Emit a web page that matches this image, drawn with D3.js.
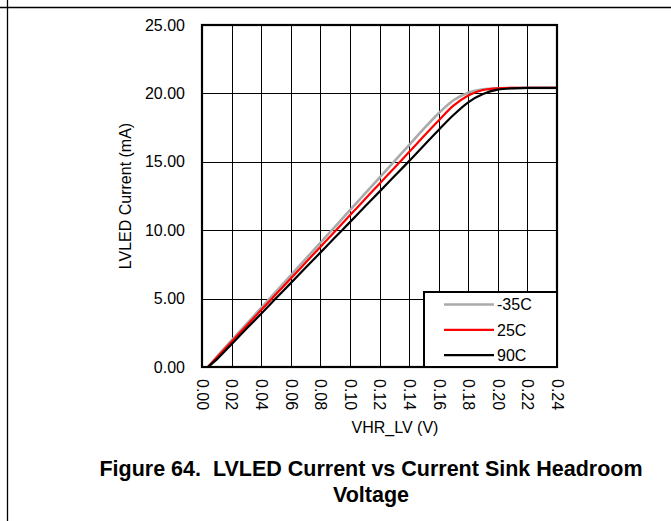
<!DOCTYPE html>
<html><head><meta charset="utf-8">
<script src="https://cdn.jsdelivr.net/npm/d3@7"></script>
<style>body{margin:0;background:#fff}svg{display:block}</style>
</head><body>
<svg id="c" width="671" height="521"></svg>
<script>
const xVals = [0.004,0.01,0.02,0.03,0.04,0.05,0.06,0.07,0.08,0.09,0.10,0.11,0.12,0.13,0.14,0.15,0.16,0.17,0.18,0.19,0.20,0.21,0.22,0.23,0.24];
const seriesM35 = [0,0.75,1.94,3.13,4.32,5.51,6.70,7.89,9.08,10.27,11.46,12.65,13.84,15.03,16.22,17.42,18.55,19.5,20.05,20.3,20.38,20.4,20.4,20.4,20.4];
const series25 = [0,0.69,1.85,3.00,4.16,5.31,6.47,7.62,8.78,9.93,11.09,12.24,13.40,14.55,15.71,16.88,18.02,19.1,19.85,20.25,20.37,20.4,20.4,20.4,20.4];
const series90 = [0,0.56,1.67,2.79,3.90,5.02,6.13,7.25,8.36,9.48,10.59,11.71,12.82,13.94,15.05,16.2,17.33,18.42,19.35,19.95,20.27,20.37,20.4,20.4,20.4];
const seriesNames = ["-35C","25C","90C"];
const seriesColors = ["#aaaaaa","#ff0000","#000000"];
const xTicks = [0,0.02,0.04,0.06,0.08,0.10,0.12,0.14,0.16,0.18,0.20,0.22,0.24];
const yTicks = [0,5,10,15,20,25];
const xTitle = "VHR_LV (V)";
const yTitle = "LVLED Current (mA)";
const caption1 = "Figure 64.  LVLED Current vs Current Sink Headroom";
const caption2 = "Voltage";

const svg = d3.select("#c");
const font = "'Liberation Sans', Arial, sans-serif";
const L=202, R=557, T=25, B=367;
const x = d3.scaleLinear().domain([0,0.24]).range([L,R]);
const y = d3.scaleLinear().domain([0,25]).range([B,T]);

// outer frame lines
svg.append("line").attr("x1",0).attr("x2",671).attr("y1",7.5).attr("y2",7.5).attr("stroke","#000").attr("stroke-width",1.3);
svg.append("line").attr("x1",7.5).attr("x2",7.5).attr("y1",0).attr("y2",521).attr("stroke","#000").attr("stroke-width",1.3);

// grid
const g = svg.append("g");
g.selectAll(".vx").data(xTicks).join("line")
  .attr("x1",d=>Math.round(x(d))+0.5).attr("x2",d=>Math.round(x(d))+0.5)
  .attr("y1",T).attr("y2",B).attr("stroke","#000").attr("stroke-width",1);
g.selectAll(".hy").data(yTicks).join("line")
  .attr("y1",d=>Math.round(y(d))+0.5).attr("y2",d=>Math.round(y(d))+0.5)
  .attr("x1",L).attr("x2",R).attr("stroke","#000").attr("stroke-width",1);

// axes (labels)
const yAxis = d3.axisLeft(y).tickValues(yTicks).tickFormat(d3.format(".2f")).tickSize(0).tickPadding(17);
const ya = svg.append("g").attr("transform",`translate(${L},0)`).call(yAxis);
ya.select(".domain").remove();
ya.selectAll("text").attr("font-family",font).attr("font-size",16).attr("fill","#000");

const xAxis = d3.axisBottom(x).tickValues(xTicks).tickFormat(d3.format(".2f")).tickSize(0);
const xa = svg.append("g").attr("transform",`translate(0,${B})`).call(xAxis);
xa.select(".domain").remove();
xa.selectAll("text").attr("font-family",font).attr("font-size",16).attr("fill","#000")
  .attr("transform","rotate(90)").attr("text-anchor","start").attr("x",12).attr("y",0).attr("dy","0.35em");

// lines
const line = d3.line().x((d,i)=>x(xVals[i])).y(d=>y(d)).curve(d3.curveMonotoneX);
const all = [seriesM35, series25, series90];
all.forEach((s,i)=>{
  svg.append("path").attr("d",line(s)).attr("fill","none")
    .attr("stroke",seriesColors[i]).attr("stroke-width",i===0?2.6:2.2).attr("stroke-linejoin","round");
});

// frame
svg.append("rect").attr("x",L).attr("y",T).attr("width",R-L).attr("height",B-T)
  .attr("fill","none").attr("stroke","#000").attr("stroke-width",2.2);

// legend
const lg = svg.append("g");
lg.append("rect").attr("x",424).attr("y",292).attr("width",R-424).attr("height",B-292)
  .attr("fill","#fff").attr("stroke","#000").attr("stroke-width",2);
seriesNames.forEach((n,i)=>{
  const yy = 304.5 + i*25.3;
  lg.append("line").attr("x1",444).attr("x2",494).attr("y1",yy).attr("y2",yy)
    .attr("stroke",seriesColors[i]).attr("stroke-width",i===0?2.6:2.2);
  lg.append("text").attr("x",497).attr("y",yy).attr("dy","0.36em")
    .attr("font-family",font).attr("font-size",16).text(n);
});

// titles
svg.append("text").attr("x",395).attr("y",433).attr("text-anchor","middle")
  .attr("font-family",font).attr("font-size",16).text(xTitle);
svg.append("text").attr("transform","translate(131,196) rotate(-90)").attr("text-anchor","middle")
  .attr("font-family",font).attr("font-size",16).text(yTitle);

svg.append("text").attr("x",371).attr("y",476).attr("text-anchor","middle").style("white-space","pre")
  .attr("font-family",font).attr("font-size",21.5).attr("font-weight","bold").text(caption1);
svg.append("text").attr("x",371).attr("y",502).attr("text-anchor","middle")
  .attr("font-family",font).attr("font-size",21.5).attr("font-weight","bold").text(caption2);
</script>
</body></html>
